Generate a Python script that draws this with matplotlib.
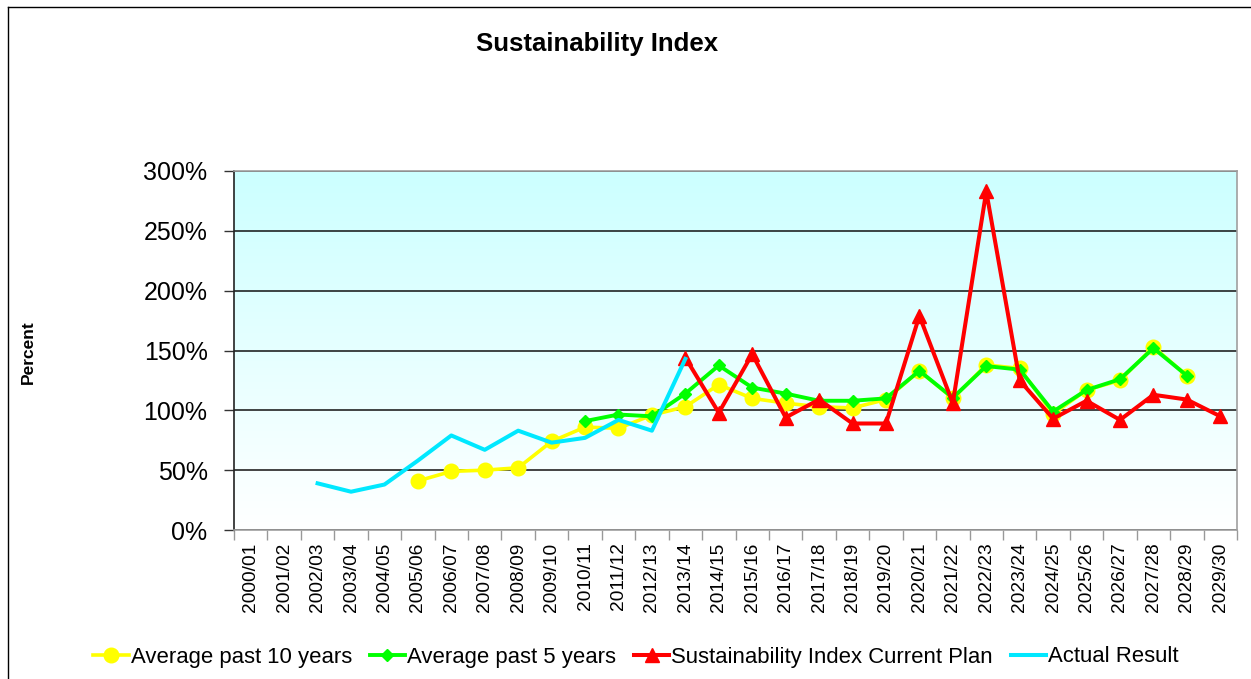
import numpy as np
import matplotlib
matplotlib.use('Agg')
import matplotlib.pyplot as plt
from matplotlib.lines import Line2D
from matplotlib.colors import LinearSegmentedColormap
from matplotlib.ticker import PercentFormatter

plt.rcParams['font.family'] = ['Liberation Sans', 'DejaVu Sans']

nan = np.nan
years = ['2000/01', '2001/02', '2002/03', '2003/04', '2004/05', '2005/06',
         '2006/07', '2007/08', '2008/09', '2009/10', '2010/11', '2011/12',
         '2012/13', '2013/14', '2014/15', '2015/16', '2016/17', '2017/18',
         '2018/19', '2019/20', '2020/21', '2021/22', '2022/23', '2023/24',
         '2024/25', '2025/26', '2026/27', '2027/28', '2028/29', '2029/30']

avg10 = [nan, nan, nan, nan, nan, 41, 49, 50, 52, 74, 86, 85, 96, 103, 121.5,
         110, 106, 103, 102, 109, 133, 110, 138, 135, 97, 117, 125, 153, 129, nan]
avg5 = [nan, nan, nan, nan, nan, nan, nan, nan, nan, nan, 91, 96.5, 95, 114, 137.5,
        119, 114, 108, 108, 110, 133, 110.5, 137, 134, 99, 117, 126, 152, 129, nan]
plan = [nan, nan, nan, nan, nan, nan, nan, nan, nan, nan, nan, nan, nan, 144, 98,
        147, 94, 109, 89, 89, 179, 106, 283, 125, 93, 108, 92, 113, 109, 95]
actual = [nan, nan, 39, 32, 38, 58, 79, 67, 83, 73, 77, 92, 83, 143, nan,
          nan, nan, nan, nan, nan, nan, nan, nan, nan, nan, nan, nan, nan, nan, nan]

series_names = ['Average past 10 years', 'Average past 5 years',
                'Sustainability Index Current Plan', 'Actual Result']
yticks = [0, 50, 100, 150, 200, 250, 300]

W, H = 1251, 679
fig = plt.figure(figsize=(W / 100, H / 100), dpi=100)
fig.patch.set_facecolor('white')

left, right, top, bottom = 234, 1237, 171, 530
ax = fig.add_axes([left / W, 1 - bottom / H, (right - left) / W, (bottom - top) / H])

x = np.arange(len(years))

# gradient background
cmap = LinearSegmentedColormap.from_list('bg', ['#FFFFFF', '#CCFFFF'])
grad = np.linspace(0, 1, 256).reshape(-1, 1)
ax.imshow(grad, extent=[-0.5, len(years) - 0.5, 0, 300], aspect='auto',
          cmap=cmap, origin='lower', zorder=0, interpolation='bicubic')

ax.plot(x, avg10, color='#FFFF00', lw=2.6, marker='o', ms=10.5, zorder=3,
        label=series_names[0])
ax.plot(x, avg5, color='#00FF00', lw=2.8, marker='D', ms=6, zorder=4,
        label=series_names[1])
ax.plot(x, plan, color='#FF0000', lw=2.9, marker='^', ms=10.5, zorder=5,
        label=series_names[2])
ax.plot(x, actual, color='#00E8FF', lw=2.9, zorder=6, label=series_names[3])

ax.set_xlim(-0.5, len(years) - 0.5)
ax.set_ylim(0, 300)
ax.set_yticks(yticks)
ax.yaxis.set_major_formatter(PercentFormatter(100, decimals=0))
ax.set_axisbelow(True)
ax.yaxis.grid(True, color='#111111', lw=1.1)

ax.set_xticks(x)
ax.set_xticklabels(years, rotation=90, fontsize=13.8)
ax.set_xticks(np.arange(-0.5, len(years)), minor=True)
ax.tick_params(axis='x', which='major', length=0, pad=9)
ax.tick_params(axis='x', which='minor', length=7, color='#999999', width=1)
ax.tick_params(axis='y', direction='out', length=7, color='#333333', width=1,
               labelsize=18, pad=12)

for s in ['top', 'right', 'bottom']:
    ax.spines[s].set_color('#A0A0A0')
    ax.spines[s].set_linewidth(1.2)
ax.spines['left'].set_color('#222222')
ax.spines['left'].set_linewidth(1.2)

fig.text(597 / W, 1 - 44 / H, 'Sustainability Index', ha='center', va='center',
         fontsize=18.5, fontweight='bold')
fig.text(28 / W, 1 - 352 / H, 'Percent', ha='center', va='center', rotation=90,
         fontsize=12.5, fontweight='bold')

fig.legend(loc='center', bbox_to_anchor=(636 / W, 1 - 657 / H), ncol=4,
           frameon=False, fontsize=15.9, handlelength=1.6, handletextpad=0.1,
           columnspacing=0.8)

fig.add_artist(Line2D([8 / W, 8 / W], [0, 1 - 7 / H], color='black', lw=1,
                      transform=fig.transFigure))
fig.add_artist(Line2D([8 / W, 1], [1 - 7 / H, 1 - 7 / H], color='black', lw=1,
                      transform=fig.transFigure))

fig.savefig('out.png', dpi=100, facecolor='white')
